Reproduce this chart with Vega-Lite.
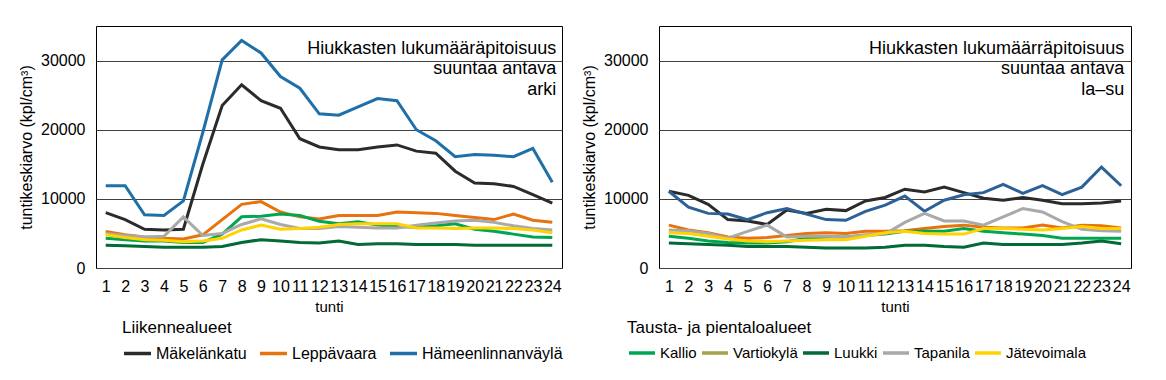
{
  "$schema": "https://vega.github.io/schema/vega-lite/v6.json",
  "padding": {"left": 18, "top": 25, "right": 5, "bottom": 5},
  "config": {
    "font": "Liberation Sans",
    "view": {"stroke": "#000000", "strokeWidth": 1},
    "axis": {
      "labelFont": "Liberation Sans", "labelFontSize": 16, "labelColor": "#000000",
      "titleFont": "Liberation Sans", "titleFontSize": 16, "titleFontWeight": "normal", "titleColor": "#000000",
      "ticks": false, "domain": false, "gridColor": "#404040", "gridWidth": 1
    },
    "legend": {"padding": 0, "labelFont": "Liberation Sans", "titleFont": "Liberation Sans"}
  },
  "spacing": 17,
  "resolve": {"scale": {"color": "independent"}, "legend": {"color": "independent"}},
  "datasets": {
    "d": [
      {"jakso":"arki","tunti":1,"Mäkelänkatu":8000,"Leppävaara":5300,"Hämeenlinnanväylä":11900,"Kallio":4300,"Luukki":3300,"Tapanila":5000,"Jätevoimala":4800},
      {"jakso":"arki","tunti":2,"Mäkelänkatu":7000,"Leppävaara":4800,"Hämeenlinnanväylä":11900,"Kallio":4100,"Luukki":3200,"Tapanila":4700,"Jätevoimala":4400},
      {"jakso":"arki","tunti":3,"Mäkelänkatu":5600,"Leppävaara":4500,"Hämeenlinnanväylä":7700,"Kallio":3900,"Luukki":3100,"Tapanila":4500,"Jätevoimala":4100},
      {"jakso":"arki","tunti":4,"Mäkelänkatu":5500,"Leppävaara":4300,"Hämeenlinnanväylä":7600,"Kallio":3900,"Luukki":3000,"Tapanila":4600,"Jätevoimala":4000},
      {"jakso":"arki","tunti":5,"Mäkelänkatu":5600,"Leppävaara":4200,"Hämeenlinnanväylä":9700,"Kallio":3700,"Luukki":3000,"Tapanila":7400,"Jätevoimala":3800},
      {"jakso":"arki","tunti":6,"Mäkelänkatu":15000,"Leppävaara":4800,"Hämeenlinnanväylä":19600,"Kallio":3700,"Luukki":3000,"Tapanila":4700,"Jätevoimala":3900},
      {"jakso":"arki","tunti":7,"Mäkelänkatu":23500,"Leppävaara":7000,"Hämeenlinnanväylä":30100,"Kallio":4900,"Luukki":3100,"Tapanila":5000,"Jätevoimala":4300},
      {"jakso":"arki","tunti":8,"Mäkelänkatu":26500,"Leppävaara":9200,"Hämeenlinnanväylä":32900,"Kallio":7400,"Luukki":3700,"Tapanila":6300,"Jätevoimala":5500},
      {"jakso":"arki","tunti":9,"Mäkelänkatu":24200,"Leppävaara":9600,"Hämeenlinnanväylä":31100,"Kallio":7500,"Luukki":4100,"Tapanila":7100,"Jätevoimala":6200},
      {"jakso":"arki","tunti":10,"Mäkelänkatu":23100,"Leppävaara":8100,"Hämeenlinnanväylä":27700,"Kallio":7800,"Luukki":3900,"Tapanila":6300,"Jätevoimala":5600},
      {"jakso":"arki","tunti":11,"Mäkelänkatu":18700,"Leppävaara":7400,"Hämeenlinnanväylä":26000,"Kallio":7600,"Luukki":3700,"Tapanila":5700,"Jätevoimala":5700},
      {"jakso":"arki","tunti":12,"Mäkelänkatu":17500,"Leppävaara":7100,"Hämeenlinnanväylä":22300,"Kallio":6750,"Luukki":3600,"Tapanila":5700,"Jätevoimala":5900},
      {"jakso":"arki","tunti":13,"Mäkelänkatu":17100,"Leppävaara":7600,"Hämeenlinnanväylä":22100,"Kallio":6400,"Luukki":3900,"Tapanila":6000,"Jätevoimala":6300},
      {"jakso":"arki","tunti":14,"Mäkelänkatu":17100,"Leppävaara":7600,"Hämeenlinnanväylä":23300,"Kallio":6700,"Luukki":3400,"Tapanila":5900,"Jätevoimala":6400},
      {"jakso":"arki","tunti":15,"Mäkelänkatu":17500,"Leppävaara":7600,"Hämeenlinnanväylä":24500,"Kallio":6200,"Luukki":3500,"Tapanila":5800,"Jätevoimala":6400},
      {"jakso":"arki","tunti":16,"Mäkelänkatu":17800,"Leppävaara":8100,"Hämeenlinnanväylä":24200,"Kallio":6000,"Luukki":3500,"Tapanila":5800,"Jätevoimala":6400},
      {"jakso":"arki","tunti":17,"Mäkelänkatu":16900,"Leppävaara":8000,"Hämeenlinnanväylä":20000,"Kallio":5900,"Luukki":3400,"Tapanila":6200,"Jätevoimala":5800},
      {"jakso":"arki","tunti":18,"Mäkelänkatu":16600,"Leppävaara":7900,"Hämeenlinnanväylä":18400,"Kallio":6100,"Luukki":3400,"Tapanila":6500,"Jätevoimala":5800},
      {"jakso":"arki","tunti":19,"Mäkelänkatu":14000,"Leppävaara":7600,"Hämeenlinnanväylä":16100,"Kallio":6400,"Luukki":3400,"Tapanila":6800,"Jätevoimala":5700},
      {"jakso":"arki","tunti":20,"Mäkelänkatu":12300,"Leppävaara":7300,"Hämeenlinnanväylä":16400,"Kallio":5600,"Luukki":3300,"Tapanila":6900,"Jätevoimala":5800},
      {"jakso":"arki","tunti":21,"Mäkelänkatu":12200,"Leppävaara":7000,"Hämeenlinnanväylä":16300,"Kallio":5300,"Luukki":3300,"Tapanila":6600,"Jätevoimala":5800},
      {"jakso":"arki","tunti":22,"Mäkelänkatu":11800,"Leppävaara":7800,"Hämeenlinnanväylä":16100,"Kallio":4900,"Luukki":3300,"Tapanila":6100,"Jätevoimala":5700},
      {"jakso":"arki","tunti":23,"Mäkelänkatu":10600,"Leppävaara":6900,"Hämeenlinnanväylä":17300,"Kallio":4500,"Luukki":3300,"Tapanila":5700,"Jätevoimala":5500},
      {"jakso":"arki","tunti":24,"Mäkelänkatu":9400,"Leppävaara":6600,"Hämeenlinnanväylä":12400,"Kallio":4400,"Luukki":3300,"Tapanila":5500,"Jätevoimala":5100},
      {"jakso":"la–su","tunti":1,"Mäkelänkatu":11100,"Leppävaara":6200,"Hämeenlinnanväylä":11100,"Kallio":4600,"Luukki":3600,"Tapanila":5500,"Jätevoimala":5100},
      {"jakso":"la–su","tunti":2,"Mäkelänkatu":10500,"Leppävaara":5500,"Hämeenlinnanväylä":8800,"Kallio":4300,"Luukki":3500,"Tapanila":5400,"Jätevoimala":5000},
      {"jakso":"la–su","tunti":3,"Mäkelänkatu":9200,"Leppävaara":5100,"Hämeenlinnanväylä":7900,"Kallio":3900,"Luukki":3400,"Tapanila":5000,"Jätevoimala":4600},
      {"jakso":"la–su","tunti":4,"Mäkelänkatu":7000,"Leppävaara":4500,"Hämeenlinnanväylä":7800,"Kallio":3700,"Luukki":3300,"Tapanila":4300,"Jätevoimala":4200},
      {"jakso":"la–su","tunti":5,"Mäkelänkatu":6800,"Leppävaara":4300,"Hämeenlinnanväylä":7000,"Kallio":3600,"Luukki":3100,"Tapanila":5300,"Jätevoimala":3900},
      {"jakso":"la–su","tunti":6,"Mäkelänkatu":6300,"Leppävaara":4400,"Hämeenlinnanväylä":8000,"Kallio":3600,"Luukki":3100,"Tapanila":6200,"Jätevoimala":3800},
      {"jakso":"la–su","tunti":7,"Mäkelänkatu":8400,"Leppävaara":4700,"Hämeenlinnanväylä":8600,"Kallio":3800,"Luukki":3100,"Tapanila":4500,"Jätevoimala":3900},
      {"jakso":"la–su","tunti":8,"Mäkelänkatu":7900,"Leppävaara":5000,"Hämeenlinnanväylä":7800,"Kallio":4300,"Luukki":3000,"Tapanila":4600,"Jätevoimala":4000},
      {"jakso":"la–su","tunti":9,"Mäkelänkatu":8500,"Leppävaara":5100,"Hämeenlinnanväylä":7000,"Kallio":4500,"Luukki":2900,"Tapanila":4600,"Jätevoimala":4100},
      {"jakso":"la–su","tunti":10,"Mäkelänkatu":8300,"Leppävaara":5000,"Hämeenlinnanväylä":6900,"Kallio":4500,"Luukki":2900,"Tapanila":4500,"Jätevoimala":4100},
      {"jakso":"la–su","tunti":11,"Mäkelänkatu":9700,"Leppävaara":5300,"Hämeenlinnanväylä":8200,"Kallio":4700,"Luukki":2900,"Tapanila":4800,"Jätevoimala":4600},
      {"jakso":"la–su","tunti":12,"Mäkelänkatu":10200,"Leppävaara":5300,"Hämeenlinnanväylä":9100,"Kallio":4900,"Luukki":3000,"Tapanila":4900,"Jätevoimala":5100},
      {"jakso":"la–su","tunti":13,"Mäkelänkatu":11400,"Leppävaara":5400,"Hämeenlinnanväylä":10400,"Kallio":5300,"Luukki":3300,"Tapanila":6600,"Jätevoimala":5300},
      {"jakso":"la–su","tunti":14,"Mäkelänkatu":11000,"Leppävaara":5700,"Hämeenlinnanväylä":8200,"Kallio":5300,"Luukki":3300,"Tapanila":7900,"Jätevoimala":5000},
      {"jakso":"la–su","tunti":15,"Mäkelänkatu":11700,"Leppävaara":6000,"Hämeenlinnanväylä":9800,"Kallio":5300,"Luukki":3100,"Tapanila":6800,"Jätevoimala":4900},
      {"jakso":"la–su","tunti":16,"Mäkelänkatu":10900,"Leppävaara":6200,"Hämeenlinnanväylä":10600,"Kallio":5700,"Luukki":3000,"Tapanila":6800,"Jätevoimala":4900},
      {"jakso":"la–su","tunti":17,"Mäkelänkatu":10100,"Leppävaara":5900,"Hämeenlinnanväylä":10900,"Kallio":5300,"Luukki":3600,"Tapanila":6200,"Jätevoimala":5700},
      {"jakso":"la–su","tunti":18,"Mäkelänkatu":9800,"Leppävaara":5800,"Hämeenlinnanväylä":12100,"Kallio":5100,"Luukki":3400,"Tapanila":7400,"Jätevoimala":5700},
      {"jakso":"la–su","tunti":19,"Mäkelänkatu":10200,"Leppävaara":5800,"Hämeenlinnanväylä":10800,"Kallio":4900,"Luukki":3400,"Tapanila":8600,"Jätevoimala":5600},
      {"jakso":"la–su","tunti":20,"Mäkelänkatu":9800,"Leppävaara":6200,"Hämeenlinnanväylä":11900,"Kallio":4700,"Luukki":3400,"Tapanila":8100,"Jätevoimala":5500},
      {"jakso":"la–su","tunti":21,"Mäkelänkatu":9300,"Leppävaara":5800,"Hämeenlinnanväylä":10600,"Kallio":4300,"Luukki":3400,"Tapanila":6700,"Jätevoimala":5700},
      {"jakso":"la–su","tunti":22,"Mäkelänkatu":9300,"Leppävaara":6200,"Hämeenlinnanväylä":11700,"Kallio":4300,"Luukki":3600,"Tapanila":5600,"Jätevoimala":6000},
      {"jakso":"la–su","tunti":23,"Mäkelänkatu":9400,"Leppävaara":6100,"Hämeenlinnanväylä":14600,"Kallio":4300,"Luukki":3900,"Tapanila":5400,"Jätevoimala":5700},
      {"jakso":"la–su","tunti":24,"Mäkelänkatu":9700,"Leppävaara":5800,"Hämeenlinnanväylä":11900,"Kallio":4300,"Luukki":3500,"Tapanila":5300,"Jätevoimala":5700}
    ]
  },
  "hconcat": [
    {
      "width": 466,
      "height": 242,
      "resolve": {"scale": {"color": "independent"}, "legend": {"color": "independent"}},
      "layer": [
        {
          "data": {"name": "d"},
          "transform": [
            {"filter": "datum.jakso === 'arki'"},
            {"fold": ["Mäkelänkatu", "Leppävaara", "Hämeenlinnanväylä"], "as": ["alue", "arvo"]}
          ],
          "mark": {"type": "line", "strokeWidth": 3},
          "encoding": {
            "x": {"field": "tunti", "type": "ordinal", "scale": {"type": "point", "padding": 0.5},
                  "axis": {"labelAngle": 0, "labelPadding": 10, "labelOverlap": false, "title": "tunti", "titleFontSize": 15, "titlePadding": 5, "grid": false}},
            "y": {"field": "arvo", "type": "quantitative", "scale": {"domain": [0, 35000], "nice": false},
                  "axis": {"values": [0, 10000, 20000, 30000], "format": "d", "grid": true, "labelPadding": 11, "titlePadding": 6, "title": "tuntikeskiarvo  (kpl/cm³)"}},
            "color": {"field": "alue", "type": "nominal",
                      "scale": {"domain": ["Mäkelänkatu", "Leppävaara", "Hämeenlinnanväylä"], "range": ["#2b2b2b", "#e8730c", "#1f6fa8"]},
                      "legend": {"title": "Liikennealueet", "orient": "none", "legendX": 26, "legendY": 294, "direction": "horizontal", "columns": 3, "gridAlign": "none",
                                 "symbolType": "stroke", "symbolSize": 729, "symbolStrokeWidth": 3.5, "labelFontSize": 16, "labelColor": "#000000",
                                 "titleFontSize": 17, "titleFontWeight": "normal", "titleColor": "#000000", "titleLimit": 400, "columnPadding": 6, "labelOffset": 3, "titlePadding": 1, "labelLimit": 300}}
          }
        },
        {
          "data": {"name": "d"},
          "transform": [
            {"filter": "datum.jakso === 'arki'"},
            {"fold": ["Kallio", "Luukki", "Tapanila", "Jätevoimala"], "as": ["alue", "arvo"]}
          ],
          "mark": {"type": "line", "strokeWidth": 3},
          "encoding": {
            "x": {"field": "tunti", "type": "ordinal"},
            "y": {"field": "arvo", "type": "quantitative"},
            "color": {"field": "alue", "type": "nominal",
                      "scale": {"domain": ["Kallio", "Vartiokylä", "Luukki", "Tapanila", "Jätevoimala"], "range": ["#00a651", "#a6a14e", "#006b35", "#a9a9a9", "#ffd200"]},
                      "legend": null}
          }
        },
        {
          "data": {"values": [{}]},
          "mark": {"type": "text", "text": ["Hiukkasten lukumääräpitoisuus", "suuntaa antava", "arki"], "align": "right", "baseline": "alphabetic",
                   "fontSize": 18, "lineHeight": 20.5, "dx": 4, "color": "#000000"},
          "encoding": {
            "x": {"datum": 24, "type": "ordinal"},
            "y": {"datum": 31000, "type": "quantitative"}
          }
        }
      ]
    },
    {
      "width": 472,
      "height": 242,
      "resolve": {"scale": {"color": "independent"}, "legend": {"color": "independent"}},
      "layer": [
        {
          "data": {"name": "d"},
          "transform": [
            {"filter": "datum.jakso === 'la–su'"},
            {"fold": ["Mäkelänkatu", "Leppävaara", "Hämeenlinnanväylä"], "as": ["alue", "arvo"]}
          ],
          "mark": {"type": "line", "strokeWidth": 3},
          "encoding": {
            "x": {"field": "tunti", "type": "ordinal", "scale": {"type": "point", "padding": 0.5},
                  "axis": {"labelAngle": 0, "labelPadding": 10, "labelOverlap": false, "title": "tunti", "titleFontSize": 15, "titlePadding": 5, "grid": false}},
            "y": {"field": "arvo", "type": "quantitative", "scale": {"domain": [0, 35000], "nice": false},
                  "axis": {"values": [0, 10000, 20000, 30000], "format": "d", "grid": true, "labelPadding": 11, "titlePadding": 6, "title": "tuntikeskiarvo  (kpl/cm³)"}},
            "color": {"field": "alue", "type": "nominal",
                      "scale": {"domain": ["Mäkelänkatu", "Leppävaara", "Hämeenlinnanväylä"], "range": ["#2b2b2b", "#e8730c", "#2c6197"]},
                      "legend": null}
          }
        },
        {
          "data": {"name": "d"},
          "transform": [
            {"filter": "datum.jakso === 'la–su'"},
            {"fold": ["Kallio", "Luukki", "Tapanila", "Jätevoimala"], "as": ["alue", "arvo"]}
          ],
          "mark": {"type": "line", "strokeWidth": 3},
          "encoding": {
            "x": {"field": "tunti", "type": "ordinal"},
            "y": {"field": "arvo", "type": "quantitative"},
            "color": {"field": "alue", "type": "nominal",
                      "scale": {"domain": ["Kallio", "Vartiokylä", "Luukki", "Tapanila", "Jätevoimala"], "range": ["#00a651", "#a6a14e", "#006b35", "#a9a9a9", "#ffd200"]},
                      "legend": {"title": "Tausta- ja pientaloalueet", "orient": "none", "legendX": -32, "legendY": 294, "direction": "horizontal", "columns": 5, "gridAlign": "none",
                                 "symbolType": "stroke", "symbolSize": 676, "symbolStrokeWidth": 3.5, "labelFontSize": 15, "labelColor": "#000000",
                                 "titleFontSize": 17, "titleFontWeight": "normal", "titleColor": "#000000", "titleLimit": 400, "columnPadding": -2, "labelOffset": 3, "titlePadding": 1, "labelLimit": 300}}
          }
        },
        {
          "data": {"values": [{}]},
          "mark": {"type": "text", "text": ["Hiukkasten lukumäärräpitoisuus", "suuntaa antava", "la–su"], "align": "right", "baseline": "alphabetic",
                   "fontSize": 18, "lineHeight": 20.5, "dx": 3, "color": "#000000"},
          "encoding": {
            "x": {"datum": 24, "type": "ordinal"},
            "y": {"datum": 31000, "type": "quantitative"}
          }
        }
      ]
    }
  ]
}
